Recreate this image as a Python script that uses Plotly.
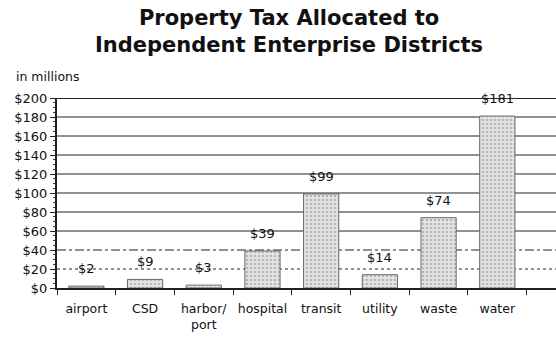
import plotly.graph_objects as go

# Property tax allocated to independent enterprise districts (in millions of dollars)
categories = ["airport", "CSD", "harbor/<br>port", "hospital", "transit", "utility", "waste", "water"]
values = [2, 9, 3, 39, 99, 14, 74, 181]
value_labels = ["$2", "$9", "$3", "$39", "$99", "$14", "$74", "$181"]

y_ticks = [0, 20, 40, 60, 80, 100, 120, 140, 160, 180, 200]
y_tick_text = ["$0", "$20", "$40", "$60", "$80", "$100", "$120", "$140", "$160", "$180", "$200"]

# Lower grid lines are drawn broken, upper ones solid
grid_dash = {20: "dot", 40: "dashdot"}

FONT = "DejaVu Sans"

fig = go.Figure()
fig.add_trace(go.Bar(
    x=categories,
    y=values,
    width=0.6,
    marker=dict(
        color="#d6d6d6",
        line=dict(color="#6a6a6a", width=1),
        pattern=dict(shape=".", fgcolor="#8a8a8a", bgcolor="#e4e4e4", size=4, solidity=0.35),
    ),
    showlegend=False,
))

# Value labels above each bar
for cat, val, lab in zip(categories, values, value_labels):
    fig.add_annotation(
        x=cat, y=val, text=lab, showarrow=False,
        yanchor="bottom", yshift=8,
        font=dict(family=FONT, size=13, color="#111111"),
    )

# Horizontal grid lines
for t in y_ticks[1:]:
    fig.add_shape(
        type="line", xref="paper", x0=0, x1=1, yref="y", y0=t, y1=t,
        line=dict(color="#222222", width=2 if t == 200 else 1, dash=grid_dash.get(t, "solid")),
        layer="below",
    )

fig.update_layout(
    width=556, height=343,
    margin=dict(l=57, r=0, t=98, b=55),
    paper_bgcolor="white", plot_bgcolor="white",
    font=dict(family=FONT, size=13, color="#111111"),
    xaxis=dict(
        type="category",
        range=[-0.5, 8.0],
        showline=True, linecolor="#222222", linewidth=2,
        ticks="outside", tickson="boundaries", ticklen=5, tickcolor="#222222",
        tickangle=0, ticklabelstandoff=8,
        tickfont=dict(family=FONT, size=12.5),
        showgrid=False,
    ),
    yaxis=dict(
        range=[0, 200],
        tickvals=y_ticks, ticktext=y_tick_text,
        showline=True, linecolor="#222222", linewidth=2,
        ticks="outside", ticklen=5, tickcolor="#222222",
        minor=dict(ticks="outside", ticklen=2, dtick=5, tickcolor="#444444", showgrid=False),
        showgrid=False, zeroline=False,
        tickfont=dict(family=FONT, size=13),
    ),
)

# Two-line chart title
fig.add_annotation(
    x=0.5, xref="paper", xanchor="center", xshift=-18,
    y=1, yref="paper", yanchor="top", yshift=94,
    text="<b>Property Tax Allocated to<br>Independent Enterprise Districts</b>",
    showarrow=False, align="center",
    font=dict(family=FONT, size=21, color="#111111"),
)

fig.add_annotation(
    x=0, xref="paper", xanchor="left", xshift=-43,
    y=200, yref="y", yanchor="bottom", yshift=12,
    text="in millions", showarrow=False,
    font=dict(family=FONT, size=12.5, color="#111111"),
)

fig.write_html("out.html")
